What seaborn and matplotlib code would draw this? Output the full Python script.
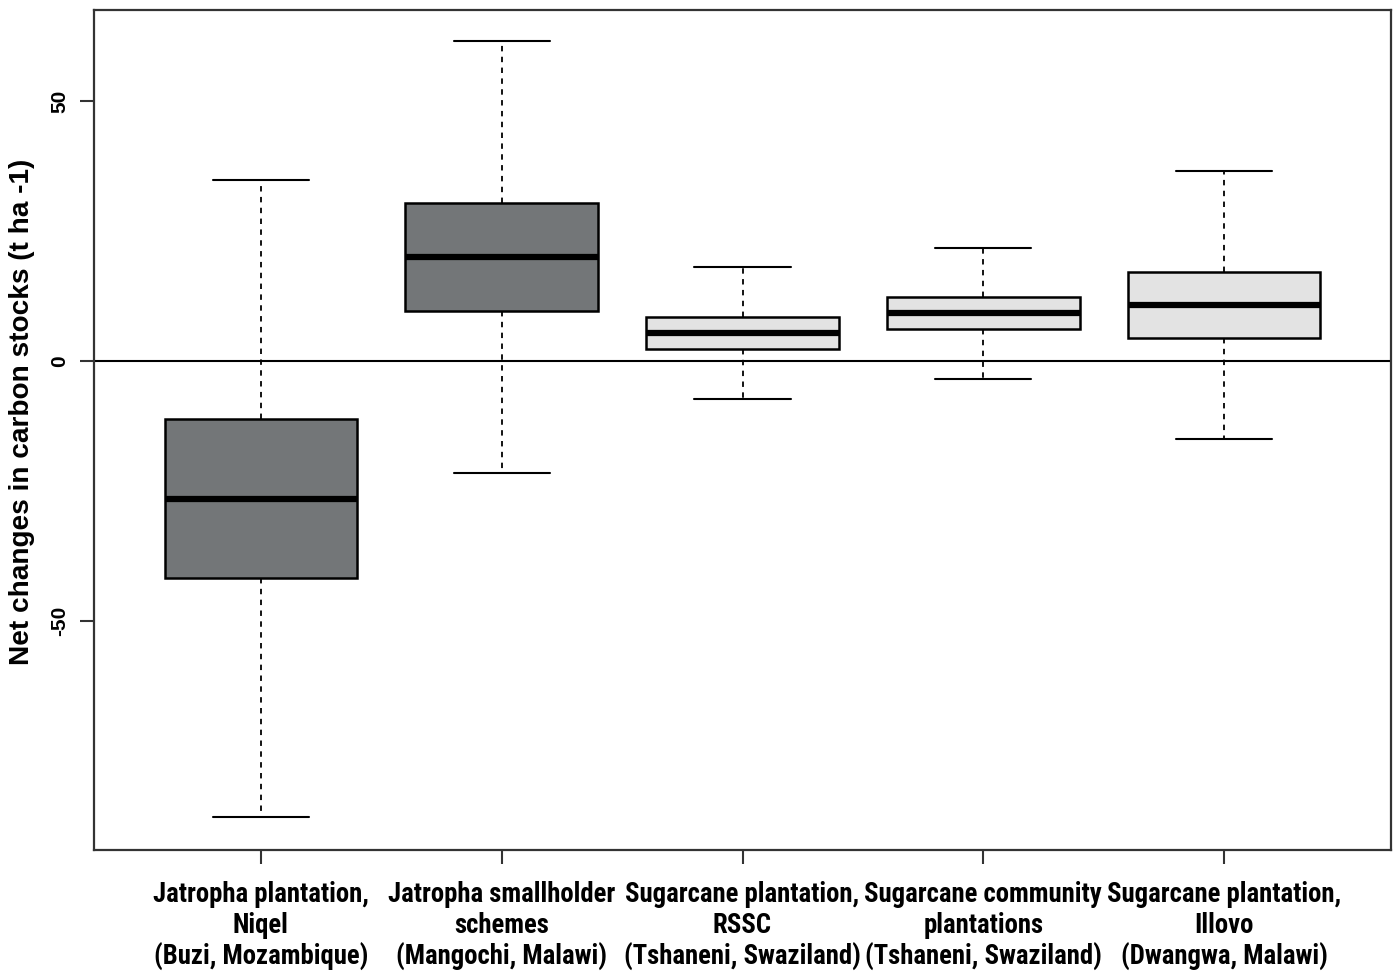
import matplotlib
matplotlib.use("Agg")
import matplotlib.pyplot as plt
import seaborn as sns
import pandas as pd
from matplotlib import font_manager

categories = [
    "Jatropha plantation,\nNiqel\n(Buzi, Mozambique)",
    "Jatropha smallholder\nschemes\n(Mangochi, Malawi)",
    "Sugarcane plantation,\nRSSC\n(Tshaneni, Swaziland)",
    "Sugarcane community\nplantations\n(Tshaneni, Swaziland)",
    "Sugarcane plantation,\nIllovo\n(Dwangwa, Malawi)",
]
# five-number summaries: min, Q1, median, Q3, max
whisker_low = [-87.7, -21.5, -7.3, -3.5, -15.0]
q1 = [-41.7, 9.6, 2.3, 6.2, 4.4]
median = [-26.5, 20.0, 5.4, 9.2, 10.8]
q3 = [-11.2, 30.4, 8.5, 12.3, 17.1]
whisker_high = [34.8, 61.5, 18.1, 21.7, 36.5]
box_colors = ["#737678", "#737678", "#e3e3e3", "#e3e3e3", "#e3e3e3"]
yticks = [-50, 0, 50]

rows = []
for i, c in enumerate(categories):
    for v in (whisker_low[i], q1[i], median[i], q3[i], whisker_high[i]):
        rows.append({"site": c, "value": v})
df = pd.DataFrame(rows)

sns.set_style("white")
names = {f.name for f in font_manager.fontManager.ttflist}
narrow, nsize = "Liberation Sans", 15.2
for cand in ("Roboto Condensed", "Liberation Sans Narrow", "Open Sans Condensed", "DejaVu Sans Condensed"):
    if cand in names:
        narrow, nsize = cand, 19.3
        break

fig = plt.figure(figsize=(13.97, 9.73), dpi=100)
ax = fig.add_axes([94/1397, 1-850/973, (1391-94)/1397, (850-10)/973])

sns.boxplot(data=df, x="site", y="value", hue="site", palette=box_colors,
            legend=False, whis=(0, 100), width=0.8, ax=ax, saturation=1,
            linecolor="black", linewidth=1.8,
            medianprops=dict(color="black", linewidth=4.5),
            whiskerprops=dict(color="black", linewidth=1.3, linestyle=(0, (3, 3))),
            capprops=dict(color="black", linewidth=1.5))

ax.axhline(0, color="black", linewidth=1.5, zorder=0)
ax.set_xlim(-0.693, 4.693)
ax.set_ylim(-94, 67.5)
ax.set_yticks(yticks)
ax.set_yticklabels([str(t) for t in yticks], rotation=90, va="center",
                   fontsize=15, fontweight="bold", family="Liberation Sans", color="black")
ax.set_xticks(range(len(categories)))
ax.set_xticklabels(categories, fontsize=nsize, fontweight="bold", family=narrow,
                   linespacing=1.2, color="black")
ax.tick_params(axis="both", length=10, width=1.5, color="#333333", direction="out",
               bottom=True, left=True)
ax.tick_params(axis="x", pad=12)
ax.tick_params(axis="y", pad=8)
ax.set_xlabel("")
ax.set_ylabel("Net changes in carbon stocks (t ha -1)", fontsize=20.2,
              fontweight="bold", family="Liberation Sans", color="black")
ax.yaxis.set_label_coords(-0.0455, 0.521)
for s in ax.spines.values():
    s.set_visible(True)
    s.set_linewidth(1.6)
    s.set_color("#333333")

fig.savefig("out.png", dpi=100)
